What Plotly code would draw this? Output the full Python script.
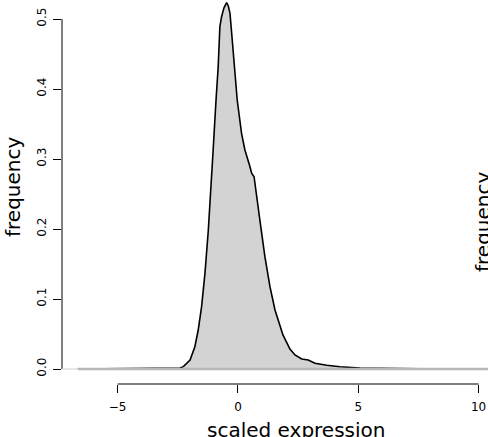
import plotly.graph_objects as go

# density curve of scaled expression
x_vals = [-6.65, -3.66, -3.12, -2.83, -2.58, -2.41, -2.27, -2.12, -1.99, -1.79, -1.65,
          -1.51, -1.37, -1.23, -1.09, -1.03, -0.91, -0.82, -0.75, -0.68, -0.58, -0.47,
          -0.40, -0.33, -0.26, -0.15, -0.03, 0.15, 0.29, 0.50, 0.57, 0.67, 0.71, 0.91,
          1.12, 1.33, 1.54, 1.75, 1.87, 2.04, 2.16, 2.37, 2.65, 2.92, 3.20, 3.69, 4.24,
          5.07, 6.44, 7.56, 10.39, 11.40]
density = [0.0, 0.0003, 0.0005, 0.0008, 0.0011, 0.0014, 0.0033, 0.0086, 0.0129, 0.0319,
           0.0557, 0.0890, 0.1367, 0.1986, 0.2700, 0.3129, 0.3843, 0.4319, 0.4890, 0.5033,
           0.5160, 0.5233, 0.5186, 0.5081, 0.4796, 0.4319, 0.3843, 0.3367, 0.3129, 0.2890,
           0.2796, 0.2747, 0.2629, 0.2129, 0.1604, 0.1176, 0.0843, 0.0604, 0.0486, 0.0371,
           0.0286, 0.0200, 0.0143, 0.0129, 0.0081, 0.0053, 0.0033, 0.0014, 0.0004, 0.0002,
           0.0, 0.0]

x_ticks = [-5, 0, 5, 10]
y_ticks = [0.0, 0.1, 0.2, 0.3, 0.4, 0.5]
y_tick_labels = ["0.0", "0.1", "0.2", "0.3", "0.4", "0.5"]

FONT = "DejaVu Sans"

fig = go.Figure()
fig.add_trace(go.Scatter(
    x=x_vals, y=density, mode="lines", fill="tozeroy",
    fillcolor="#d3d3d3", line=dict(color="black", width=1.6),
    hoverinfo="skip", showlegend=False))

x_min, x_max = -7.31, 10.39
y_min, y_max = -0.02143, 0.52714

fig.update_layout(
    width=488, height=437,
    margin=dict(l=62, r=0, t=0, b=53),
    paper_bgcolor="white", plot_bgcolor="white",
    font=dict(family=FONT, color="black", size=12),
    xaxis=dict(range=[x_min, x_max], tickvals=x_ticks, ticks="outside", ticklen=8,
               tickwidth=1, tickcolor="black", showgrid=False, zeroline=False,
               showline=False, tickfont=dict(size=12, family=FONT),
               ticklabelstandoff=4),
    yaxis=dict(range=[y_min, y_max], tickvals=y_ticks, ticktext=y_tick_labels,
               ticks="outside", ticklen=8, tickwidth=1, tickcolor="black",
               showgrid=False, zeroline=False, showline=False, tickangle=-90,
               tickfont=dict(size=12, family=FONT), ticklabelstandoff=2),
)

# axis lines only between first and last tick
fig.add_shape(type="line", xref="x", yref="paper", x0=x_ticks[0], x1=x_ticks[-1], y0=0, y1=0,
              line=dict(color="black", width=1), layer="above")
fig.add_shape(type="line", xref="paper", yref="y", x0=0, x1=0, y0=y_ticks[0], y1=y_ticks[-1],
              line=dict(color="black", width=1), layer="above")
# baseline lines
fig.add_shape(type="line", xref="x", yref="y", x0=x_min, x1=x_max, y0=0, y1=0,
              line=dict(color="#d0d0d0", width=1), layer="above")
fig.add_shape(type="line", xref="x", yref="y", x0=x_vals[0], x1=x_vals[-1], y0=0, y1=0,
              line=dict(color="#b8b8b8", width=2.5), layer="above")

fig.add_annotation(text="scaled expression", xref="paper", yref="paper",
                   x=(296 - 62) / 426, y=(384 - 416) / 384, xanchor="center", yanchor="top",
                   showarrow=False, font=dict(size=20, family=FONT))
fig.add_annotation(text="frequency", xref="paper", yref="paper",
                   x=(13 - 62) / 426, y=(384 - 187) / 384, xanchor="center", yanchor="middle",
                   textangle=-90, showarrow=False, font=dict(size=20, family=FONT))
fig.add_annotation(text="frequency", xref="paper", yref="paper",
                   x=(469 - 62) / 426, y=(384 - 222) / 384, xanchor="left", yanchor="middle",
                   textangle=-90, showarrow=False, font=dict(size=20, family=FONT))

fig.write_html("out.html", config={"displayModeBar": False},
               post_script="document.body.style.margin='0px';document.body.style.overflow='hidden';")
